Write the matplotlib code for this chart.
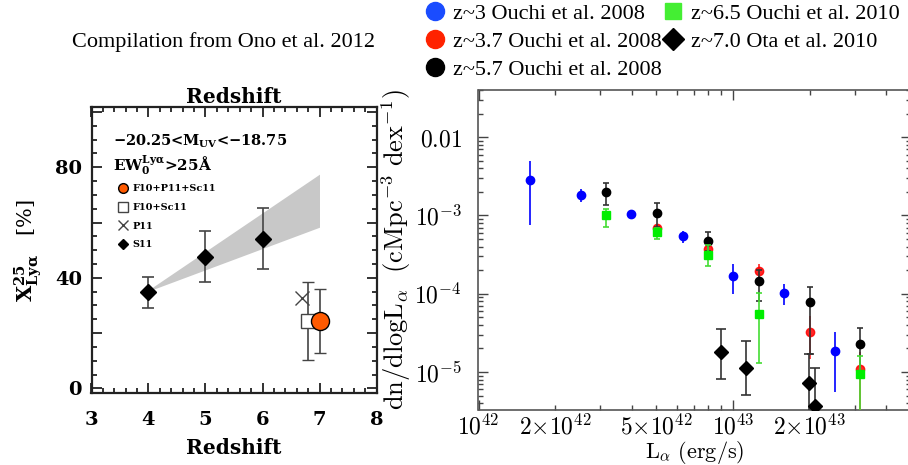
import numpy as np
import matplotlib.pyplot as plt
from matplotlib.lines import Line2D
from matplotlib.ticker import FixedLocator, FixedFormatter, NullFormatter, MultipleLocator

plt.rcParams['mathtext.fontset'] = 'cm'

# ---- left panel: Lya fraction vs redshift (Ono et al. 2012 compilation)
s11_z = [4.0, 5.0, 6.0]
s11_x = [34.8, 47.6, 54.0]
s11_lo = [29.2, 38.4, 43.2]
s11_hi = [40.2, 57.1, 65.3]

p11_z = [6.69]
p11_x = [32.6]

sc11_z = [6.80]
sc11_x = [24.5]
sc11_lo = [10.2]
sc11_hi = [38.6]

comb_z = [7.0]
comb_x = [24.5]
comb_lo = [12.7]
comb_hi = [36.1]

band_z = [4.0, 7.0]
band_lo = [35.2, 58.3]
band_hi = [35.6, 77.5]

# ---- right panel: Lya luminosity functions
z3_L = [1.59e42, 2.52e42, 3.99e42, 6.33e42, 1.0e43, 1.585e43, 2.51e43]
z3_n = [2.85e-3, 1.84e-3, 1.05e-3, 5.5e-4, 1.70e-4, 1.03e-4, 1.88e-5]
z3_lo = [7.5e-4, 1.47e-3, 0.98e-3, 4.45e-4, 9.9e-5, 7.1e-5, 5.5e-6]
z3_hi = [5.0e-3, 2.17e-3, 1.12e-3, 6.4e-4, 2.42e-4, 1.35e-4, 3.22e-5]

z37_L = [5.01e42, 7.94e42, 1.26e43, 2.0e43, 3.16e43]
z37_n = [6.9e-4, 3.76e-4, 1.97e-4, 3.26e-5, 1.08e-5]
z37_lo = [6.0e-4, 3.3e-4, 1.6e-4, 1.45e-5, 1e-7]
z37_hi = [7.6e-4, 4.2e-4, 2.4e-4, 5.2e-5, 1.8e-5]

z57_L = [3.16e42, 5.01e42, 7.94e42, 1.26e43, 2.0e43, 3.16e43]
z57_n = [1.99e-3, 1.06e-3, 4.7e-4, 1.44e-4, 7.9e-5, 2.29e-5]
z57_lo = [1.36e-3, 7.2e-4, 3.5e-4, 8.0e-5, 1.69e-5, 1.0e-5]
z57_hi = [2.61e-3, 1.42e-3, 6.2e-4, 2.03e-4, 1.22e-4, 3.66e-5]

z65_L = [3.16e42, 5.01e42, 7.94e42, 1.26e43, 3.16e43]
z65_n = [1.0e-3, 6.1e-4, 3.09e-4, 5.57e-5, 9.3e-6]
z65_lo = [7.2e-4, 5.0e-4, 2.24e-4, 1.32e-5, 1e-7]
z65_hi = [1.21e-3, 7.0e-4, 4.2e-4, 1.01e-4, 1.62e-5]

z70_L = [8.94e42, 1.12e43, 1.99e43, 2.09e43]
z70_n = [1.81e-5, 1.13e-5, 7.3e-6, 3.63e-6]
z70_lo = [8.2e-6, 5.1e-6, 1e-7, 1e-7]
z70_hi = [3.56e-5, 2.47e-5, 1.69e-5, 1.13e-5]

xmajor = [1e42, 1e43]
xmajor_labels = [r'$10^{42}$', r'$10^{43}$']
xminor = [2e42, 3e42, 4e42, 5e42, 6e42, 7e42, 8e42, 9e42, 2e43, 3e43, 4e43]
xminor_labels = [r'$2{\times}10^{42}$', '', '', r'$5{\times}10^{42}$', '', '', '', '', r'$2{\times}10^{43}$', '', '']
ymajor = [1e-5, 1e-4, 1e-3, 1e-2]
ymajor_labels = [r'$10^{-5}$', r'$10^{-4}$', r'$10^{-3}$', r'$0.01$']


def err(n, lo, hi):
    n, lo, hi = np.array(n), np.array(lo), np.array(hi)
    return [n - lo, hi - n]


W, H = 908, 465
fig = plt.figure(figsize=(W / 100, H / 100), dpi=100)

serif_b = dict(family='DejaVu Serif', weight='bold')

# ================= left panel =================
ax = fig.add_axes([91.5 / W, 1 - 393.3 / H, 285 / W, 286.3 / H])

ax.fill_between(band_z, band_lo, band_hi, color='#c8c8c8', lw=0, zorder=1)

ax.errorbar(s11_z, s11_x, yerr=err(s11_x, s11_lo, s11_hi), fmt='D', color='black', ms=8.5,
            ecolor='#444444', elinewidth=1.2, capsize=4, capthick=1.2, zorder=3)
ax.plot(p11_z, p11_x, 'x', color='#444444', ms=9.5, mew=1.0, zorder=3)
ax.errorbar(sc11_z, sc11_x, yerr=err(sc11_x, sc11_lo, sc11_hi), fmt='s', mfc='white', mec='#444444',
            ms=10, mew=1.0, ecolor='#444444', elinewidth=1.2, capsize=4, capthick=1.2, zorder=3)
ax.errorbar(comb_z, comb_x, yerr=err(comb_x, comb_lo, comb_hi), fmt='o', mfc='#ff5a00', mec='black',
            ms=13, mew=1.0, ecolor='#444444', elinewidth=1.2, capsize=4, capthick=1.2, zorder=4)

ax.set_xlim(3, 8)
ax.set_ylim(-1.8, 101.8)
ax.xaxis.set_major_locator(MultipleLocator(1))
ax.xaxis.set_minor_locator(MultipleLocator(0.2))
ax.yaxis.set_major_locator(FixedLocator([0, 20, 40, 60, 80, 100]))
ax.yaxis.set_major_formatter(FixedFormatter(['0', '', '40', '', '80', '']))
ax.yaxis.set_minor_locator(MultipleLocator(5))
ax.tick_params(which='both', direction='in', top=True, right=True, width=1.3, color='#222222')
ax.tick_params(which='major', length=7)
ax.tick_params(which='minor', length=3.5)
ax.tick_params(axis='x', pad=13)
ax.tick_params(axis='y', pad=7)
for lab in ax.get_xticklabels() + ax.get_yticklabels():
    lab.set_fontfamily('DejaVu Serif')
    lab.set_fontweight('bold')
    lab.set_fontsize(14)
for sp in ax.spines.values():
    sp.set_linewidth(1.6)
    sp.set_color('#222222')

ax.set_title('Redshift', fontsize=14.5, pad=3, **serif_b)
ax.set_xlabel('Redshift', fontsize=14.5, labelpad=6, **serif_b)
ax.set_ylabel(r'$\mathbf{X^{25}_{Ly\alpha}}$   [%]', fontsize=15, labelpad=8, math_fontfamily='dejavuserif',
              family='DejaVu Serif')

ax.text(0.075, 0.879, '\u221220.25<M$_{\\mathbf{UV}}$<\u221218.75', transform=ax.transAxes, fontsize=10.5,
        va='center', ha='left', math_fontfamily='dejavuserif', **serif_b)
ax.text(0.075, 0.795, r'$\mathbf{EW_0^{Ly\alpha}}$>25Å', transform=ax.transAxes, fontsize=11,
        va='center', ha='left', math_fontfamily='dejavuserif', **serif_b)

left_handles = [
    Line2D([], [], ls='', marker='o', mfc='#ff5a00', mec='black', ms=7, label='F10+P11+Sc11'),
    Line2D([], [], ls='', marker='s', mfc='white', mec='#444444', ms=6.5, label='F10+Sc11'),
    Line2D([], [], ls='', marker='x', color='#444444', ms=7, label='P11'),
    Line2D([], [], ls='', marker='D', color='black', ms=5, label='S11'),
]
ax.legend(handles=left_handles, loc='upper left', bbox_to_anchor=(0.095, 0.73), frameon=False,
          prop=dict(family='DejaVu Serif', weight='bold', size=7), handlelength=1.0, handletextpad=0.4,
          labelspacing=1.0, borderpad=0, borderaxespad=0)

# ================= right panel =================
bx = fig.add_axes([478.5 / W, 1 - 410 / H, 432.5 / W, 320 / H])

eb = dict(elinewidth=1.2, capthick=1.2, ls='none')
bx.errorbar(z3_L, z3_n, yerr=err(z3_n, z3_lo, z3_hi), fmt='o', color='#0000ff', ms=6, capsize=0, zorder=3, **eb)
bx.errorbar(z37_L, z37_n, yerr=err(z37_n, z37_lo, z37_hi), fmt='o', color='#ff0000', ms=6, capsize=0,
            alpha=0.85, zorder=3, **eb)
bx.errorbar(z57_L, z57_n, yerr=err(z57_n, z57_lo, z57_hi), fmt='o', color='black', ecolor='#333333', ms=6,
            capsize=2.5, zorder=4, **eb)
bx.errorbar(z65_L, z65_n, yerr=err(z65_n, z65_lo, z65_hi), fmt='s', color='#00ee00', ecolor='#44dd33', ms=5.5,
            capsize=2.5, zorder=5, **eb)
bx.errorbar(z70_L, z70_n, yerr=err(z70_n, z70_lo, z70_hi), fmt='D', color='black', ecolor='#333333', ms=7.5,
            capsize=3.5, zorder=6, **eb)

bx.set_xscale('log')
bx.set_yscale('log')
bx.set_xlim(1e42, 5e43)
bx.set_ylim(3.27e-6, 0.04)
bx.xaxis.set_major_locator(FixedLocator(xmajor))
bx.xaxis.set_major_formatter(FixedFormatter(xmajor_labels))
bx.xaxis.set_minor_locator(FixedLocator(xminor))
bx.xaxis.set_minor_formatter(FixedFormatter(xminor_labels))
bx.yaxis.set_major_locator(FixedLocator(ymajor))
bx.yaxis.set_major_formatter(FixedFormatter(ymajor_labels))
bx.yaxis.set_minor_locator(FixedLocator([k * 10.0 ** e for e in range(-6, -1) for k in range(2, 10)]))
bx.yaxis.set_minor_formatter(NullFormatter())
bx.tick_params(which='both', direction='in', top=True, right=True, color='#444444', width=1.0, labelsize=17)
bx.tick_params(which='major', length=7)
bx.tick_params(which='minor', length=3.5)
bx.tick_params(axis='x', which='both', pad=3)
bx.tick_params(axis='y', which='both', pad=12)
for sp in bx.spines.values():
    sp.set_linewidth(1.2)
    sp.set_color('#555555')

bx.set_xlabel(r'$\mathrm{L_\alpha\ (erg/s)}$', fontsize=16, labelpad=0)
bx.set_ylabel(r'$\mathrm{dn/dlogL_\alpha\ \ (cMpc^{-3}\ dex^{-1})}$', fontsize=19, labelpad=1)

right_handles = [
    Line2D([], [], ls='', marker='o', color='#1a4cff', ms=13, label='z~3 Ouchi et al. 2008'),
    Line2D([], [], ls='', marker='o', color='#ff2200', ms=13, label='z~3.7 Ouchi et al. 2008'),
    Line2D([], [], ls='', marker='o', color='black', ms=13, label='z~5.7 Ouchi et al. 2008'),
    Line2D([], [], ls='', marker='s', color='#44ee33', ms=12, label='z~6.5 Ouchi et al. 2010'),
    Line2D([], [], ls='', marker='D', color='black', ms=11.5, label='z~7.0 Ota et al. 2010'),
]
fig.legend(handles=right_handles, ncol=2, loc='upper left', bbox_to_anchor=(422 / W, 1 - 1 / H), frameon=False,
           prop=dict(family='Liberation Serif', size=16), handlelength=1.0, handletextpad=0.3,
           labelspacing=0.34, columnspacing=0.0, borderpad=0.1, borderaxespad=0)

fig.text(223 / W, 1 - 42 / H, 'Compilation from Ono et al. 2012', family='Liberation Serif', fontsize=16,
         ha='center', va='center')

fig.savefig('out.png', dpi=100)
